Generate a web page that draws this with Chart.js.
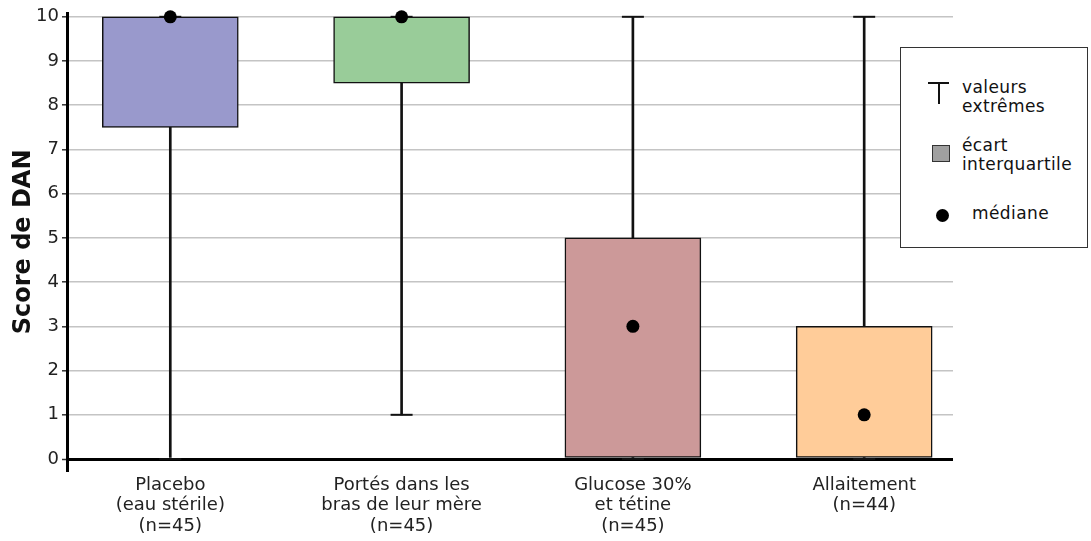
<!DOCTYPE html>
<html>
<head>
<meta charset="utf-8">
<script src="https://cdn.jsdelivr.net/npm/chart.js@4/dist/chart.umd.min.js"></script>
<style>
  html, body { margin: 0; padding: 0; background: #fff; }
  #wrap { position: relative; width: 1091px; height: 541px; }
  #legend {
    position: absolute; left: 900px; top: 47px; width: 188px; height: 201px;
    box-sizing: border-box; border: 1px solid #333; background: #fff;
    font-family: "DejaVu Sans", Verdana, sans-serif; font-size: 17px; line-height: 19px;
    letter-spacing: 0.4px; color: #111;
  }
  #legend .txt { position: absolute; white-space: nowrap; }
  #legend .t-bar { position: absolute; left: 27px; top: 34px; width: 21px; height: 2px; background: #111; }
  #legend .t-stem { position: absolute; left: 37px; top: 34px; width: 2px; height: 22px; background: #111; }
  #legend .sq { position: absolute; left: 31px; top: 97px; width: 18px; height: 17px; box-sizing: border-box; border: 1px solid #333; background: #a0a0a0; }
  #legend .dot { position: absolute; left: 35px; top: 161px; width: 13px; height: 13px; border-radius: 50%; background: #000; }
</style>
</head>
<body>
<div id="wrap">
  <canvas id="chart" width="1091" height="541"></canvas>
  <div id="legend">
    <div class="t-bar"></div><div class="t-stem"></div>
    <div class="txt" style="left:61px; top:30px;">valeurs<br>extrêmes</div>
    <div class="sq"></div>
    <div class="txt" style="left:61px; top:88px;">écart<br>interquartile</div>
    <div class="dot"></div>
    <div class="txt" style="left:71px; top:156px;">médiane</div>
  </div>
</div>
<script>
// Groups and their five-number summaries (DAN pain score)
const categories = [
  ["Placebo", "(eau stérile)", "(n=45)"],
  ["Portés dans les", "bras de leur mère", "(n=45)"],
  ["Glucose 30%", "et tétine", "(n=45)"],
  ["Allaitement", "(n=44)"]
];
const minimum = [0, 1, 0, 0];
const q1      = [7.5, 8.5, 0, 0];
const median  = [10, 10, 3, 1];
const q3      = [10, 10, 5, 3];
const maximum = [10, 10, 10, 10];
const boxColors = ["#9999cc", "#99cc99", "#cc9999", "#ffcc99"];
const yTicks = [0, 1, 2, 3, 4, 5, 6, 7, 8, 9, 10];

const FONT = "'DejaVu Sans', Verdana, sans-serif";
const idx = categories.map((_, i) => i);

const boxData     = idx.map(i => ({ x: i, y: [q1[i], q3[i]] }));
const whiskerData = idx.map(i => ({ x: i, y: [minimum[i], maximum[i]] }));
const capData     = idx.flatMap(i => [{ x: i, y: minimum[i] }, { x: i, y: maximum[i] }]);
const medianData  = idx.map(i => ({ x: i, y: median[i] }));

new Chart(document.getElementById("chart"), {
  type: "bar",
  data: {
    datasets: [
      {
        label: "médiane", type: "scatter", data: medianData, order: 0,
        pointStyle: "circle", pointRadius: 6.5, pointHoverRadius: 6.5,
        backgroundColor: "#000", borderColor: "#000", borderWidth: 0, clip: false
      },
      {
        label: "écart interquartile", data: boxData, order: 1,
        backgroundColor: boxColors, borderColor: "#111", borderWidth: 1.5,
        borderSkipped: false, barThickness: 136, grouped: false
      },
      {
        label: "valeurs extrêmes", type: "scatter", data: capData, order: 2,
        pointStyle: "line", pointRadius: 11, pointHoverRadius: 11,
        borderColor: "#111", borderWidth: 2, clip: false
      },
      {
        label: "moustaches", data: whiskerData, order: 3,
        backgroundColor: "#111", borderWidth: 0, barThickness: 2, grouped: false
      }
    ]
  },
  options: {
    responsive: false,
    animation: false,
    devicePixelRatio: 1,
    layout: { padding: { left: 0, top: 7, right: 138, bottom: 0 } },
    plugins: { legend: { display: false }, tooltip: { enabled: false } },
    scales: {
      x: {
        type: "linear",
        offset: false,
        min: -0.4466, max: 3.384,
        afterBuildTicks: s => { s.ticks = idx.map(v => ({ value: v })); },
        afterFit: s => { s.height = 71; },
        grid: { display: false },
        border: { display: false },
        ticks: {
          autoSkip: false, maxRotation: 0, padding: -3,
          font: { family: FONT, size: 18, lineHeight: 1.14 }, color: "#222",
          callback: v => categories[v]
        }
      },
      y: {
        min: -0.248, max: 10.068,
        afterBuildTicks: s => { s.ticks = yTicks.map(v => ({ value: v })); },
        afterFit: s => { s.width = 67; },
        border: { color: "#000", width: 3 },
        grid: {
          color: c => (c.tick && c.tick.value === 0 ? "#000" : "#c4c4c4"),
          lineWidth: c => (c.tick && c.tick.value === 0 ? 3 : 1.6),
          tickLength: 5, tickColor: "#333", tickWidth: 1.5
        },
        ticks: { padding: 3, font: { family: FONT, size: 18 }, color: "#222" },
        title: {
          display: true, text: "Score de DAN", color: "#111",
          font: { family: FONT, size: 24, weight: "bold" },
          padding: { top: 9, bottom: 0 }
        }
      }
    }
  }
});
</script>
</body>
</html>
